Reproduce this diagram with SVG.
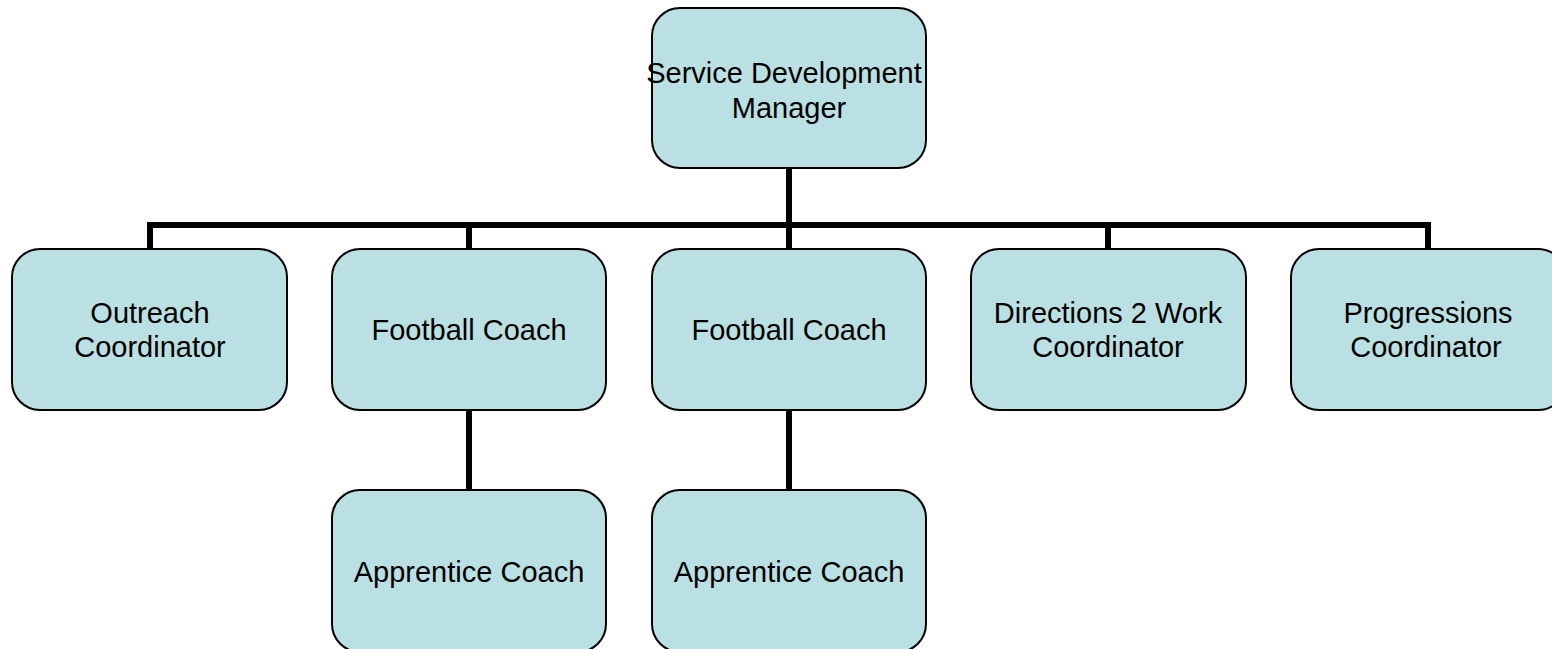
<svg xmlns="http://www.w3.org/2000/svg" width="1552" height="649" viewBox="0 0 1552 649">
<style>
.box{fill:#BBE0E3;stroke:#000;stroke-width:2}
.lbl{font-family:"Liberation Sans",Arial,sans-serif;font-size:29px;fill:#000;text-anchor:middle}
.con{stroke:#000;stroke-width:6;fill:none}
</style>
<rect width="1552" height="649" fill="#fff"/>
<g id="connectors">
<path class="con" d="M789 168V225M150 249V225H1428V249M469 225V249M1108 225V249M789 225V249M469 410V490M789 410V490"/>
</g>
<g id="n-sdm"><rect class="box" x="652" y="8" width="274" height="160" rx="28"/><text class="lbl" x="784" y="83">Service Development</text><text class="lbl" x="789" y="118">Manager</text></g>
<g id="n-outreach"><rect class="box" x="12" y="249" width="275" height="161" rx="28"/><text class="lbl" x="150" y="323">Outreach</text><text class="lbl" x="150" y="357">Coordinator</text></g>
<g id="n-fc1"><rect class="box" x="332" y="249" width="274" height="161" rx="28"/><text class="lbl" x="469" y="340">Football Coach</text></g>
<g id="n-fc2"><rect class="box" x="652" y="249" width="274" height="161" rx="28"/><text class="lbl" x="789" y="340">Football Coach</text></g>
<g id="n-d2w"><rect class="box" x="971" y="249" width="275" height="161" rx="28"/><text class="lbl" x="1108" y="323">Directions 2 Work</text><text class="lbl" x="1108" y="357">Coordinator</text></g>
<g id="n-prog"><rect class="box" x="1291" y="249" width="275" height="161" rx="28"/><text class="lbl" x="1428" y="323">Progressions</text><text class="lbl" x="1426" y="357">Coordinator</text></g>
<g id="n-ac1"><rect class="box" x="332" y="490" width="274" height="162" rx="28"/><text class="lbl" x="469" y="582">Apprentice Coach</text></g>
<g id="n-ac2"><rect class="box" x="652" y="490" width="274" height="162" rx="28"/><text class="lbl" x="789" y="582">Apprentice Coach</text></g>
</svg>
